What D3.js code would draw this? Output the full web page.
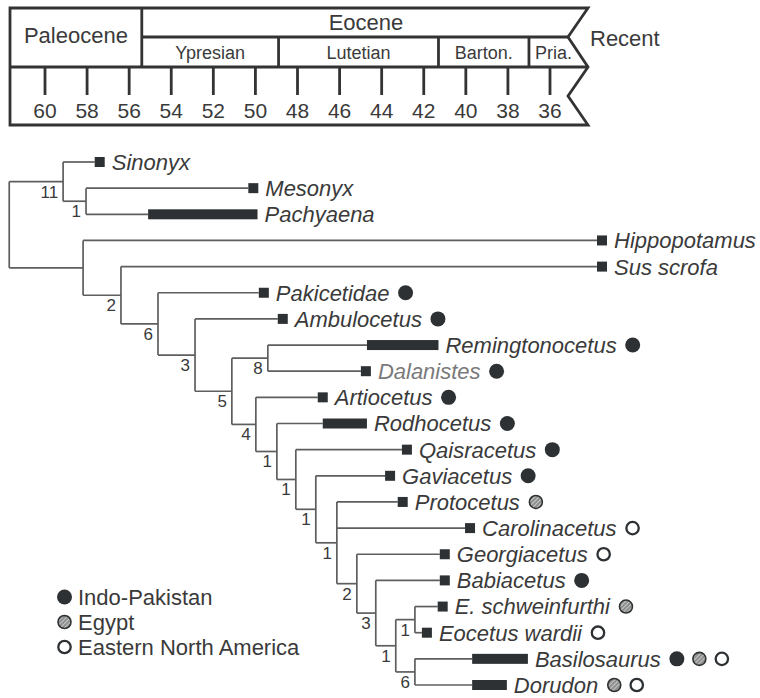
<!DOCTYPE html>
<html>
<head>
<script src="https://d3js.org/d3.v7.min.js"></script>
<style>
  body { margin: 0; background: #fff; }
  text { font-family: "Liberation Sans", Arial, sans-serif; fill: #3a3a3a; }
</style>
</head>
<body>
<div id="chart"></div>
<script>
// ---- time scale data (Ma) ----
const tickAges = [60, 58, 56, 54, 52, 50, 48, 46, 44, 42, 40, 38, 36];
const epochBoundary = 55.4;                 // Paleocene / Eocene
const stageNames = ["Ypresian", "Lutetian", "Barton.", "Pria."];
const stageBounds = [55.4, 48.9, 41.3, 37.0]; // older edge of each stage

// ---- taxa (top to bottom) ----
const taxa = ["Sinonyx", "Mesonyx", "Pachyaena", "Hippopotamus", "Sus scrofa",
  "Pakicetidae", "Ambulocetus", "Remingtonocetus", "Dalanistes", "Artiocetus",
  "Rodhocetus", "Qaisracetus", "Gaviacetus", "Protocetus", "Carolinacetus",
  "Georgiacetus", "Babiacetus", "E. schweinfurthi", "Eocetus wardii",
  "Basilosaurus", "Dorudon"];
// first / last appearance (Ma); 0 = Recent
const tipFirst = [57.4, 50.1, 55.1, 0, 0, 49.6, 48.7, 44.7, 44.75, 46.8, 46.8,
  42.8, 43.6, 43.0, 39.8, 41.0, 41.0, 41.1, 41.85, 39.7, 39.7];
const tipLast  = [57.4, 50.1, 49.9, 0, 0, 49.6, 48.7, 41.3, 44.75, 46.8, 44.7,
  42.8, 43.6, 43.0, 39.8, 41.0, 41.0, 41.1, 41.85, 37.05, 38.05];
const tipParent = ["A", "M", "M", "B", "C", "D", "E", "R", "R", "G", "H", "I",
  "J", "K", "K", "L", "N", "S", "S", "T", "T"];
// IP = Indo-Pakistan, EG = Egypt, NA = Eastern North America
const tipRegions = [[], [], [], [], [], ["IP"], ["IP"], ["IP"], ["IP"], ["IP"],
  ["IP"], ["IP"], ["IP"], ["EG"], ["NA"], ["NA"], ["IP"], ["EG"], ["NA"],
  ["IP", "EG", "NA"], ["EG", "NA"]];

// ---- clades ----
const cladeIds     = ["root", "A", "M", "B", "C", "D", "E", "F", "R", "G", "H", "I", "J", "K", "L", "N", "P", "S", "T"];
const cladeParent  = [null, "root", "A", "root", "B", "C", "D", "E", "F", "F", "G", "H", "I", "J", "K", "L", "N", "P", "P"];
const cladeAge     = [61.7, 59.14, 58.05, 58.19, 56.39, 54.63, 52.87, 51.12, 49.41, 49.98, 48.98, 48.08, 47.13, 46.13, 45.18, 44.28, 43.33, 42.42, 42.42];
const cladeSupport = ["", "11", "1", "", "2", "6", "3", "5", "8", "4", "1", "1", "1", "1", "2", "3", "1", "1", "6"];

const regionCodes = ["IP", "EG", "NA"];
const regionNames = ["Indo-Pakistan", "Egypt", "Eastern North America"];

// ---- setup ----
const width = 760, height = 698;
const dark = "#2d3133";
const svg = d3.select("#chart").append("svg")
  .attr("width", width).attr("height", height);

const defs = svg.append("defs");
const pat = defs.append("pattern").attr("id", "hatch")
  .attr("patternUnits", "userSpaceOnUse").attr("width", 3).attr("height", 3)
  .attr("patternTransform", "rotate(45)");
pat.append("rect").attr("width", 3).attr("height", 3).attr("fill", "#8e8e8e");
pat.append("line").attr("x1", 0).attr("y1", 0).attr("x2", 0).attr("y2", 3)
  .attr("stroke", "#e4e4e4").attr("stroke-width", 1.3);

// ages -> x ; Recent sits past the break
const x = d3.scaleLinear().domain([60, 36, 0]).range([45, 550, 602]);

// ---- time scale box ----
const bx0 = 10, bx1 = 588, bxIn = 568;
const by0 = 8, byMid = 37, byTick = 67, by1 = 125;
const ts = svg.append("g").attr("stroke", "#333").attr("stroke-width", 2.8).attr("fill", "none");
ts.append("path").attr("d",
  `M${bx0},${by0}H${bx1}L${bxIn},${byMid}L${bx1},${byTick}L${bxIn},${(byTick + by1) / 2}L${bx1},${by1}H${bx0}Z`)
  .attr("stroke-linejoin", "miter");
ts.append("line").attr("x1", x(epochBoundary)).attr("x2", bxIn).attr("y1", byMid).attr("y2", byMid);
ts.append("line").attr("x1", bx0).attr("x2", bx1).attr("y1", byTick).attr("y2", byTick);
ts.append("line").attr("x1", x(epochBoundary)).attr("x2", x(epochBoundary)).attr("y1", by0).attr("y2", byTick);
ts.selectAll(".sb").data(stageBounds.slice(1)).join("line")
  .attr("x1", d => x(d)).attr("x2", d => x(d)).attr("y1", byMid).attr("y2", byTick);
ts.selectAll(".tk").data(tickAges).join("line")
  .attr("x1", d => x(d)).attr("x2", d => x(d)).attr("y1", byTick).attr("y2", 95);

svg.selectAll(".tl").data(tickAges).join("text")
  .attr("x", d => x(d)).attr("y", 118).attr("text-anchor", "middle")
  .attr("font-size", 21).text(d => d);

svg.append("text").attr("x", (bx0 + x(epochBoundary)) / 2).attr("y", byTick / 2 + 9)
  .attr("text-anchor", "middle").attr("font-size", 22).text("Paleocene");
svg.append("text").attr("x", 366).attr("y", 30)
  .attr("text-anchor", "middle").attr("font-size", 22).text("Eocene");
svg.append("text").attr("x", 590).attr("y", 46).attr("font-size", 22).text("Recent");

const stageRight = stageBounds.slice(1).map(x).concat([578]);
svg.selectAll(".st").data(stageNames).join("text")
  .attr("x", (d, i) => (x(stageBounds[i]) + stageRight[i]) / 2)
  .attr("y", 59).attr("text-anchor", "middle").attr("font-size", 18).text(d => d);

// ---- tree ----
const table = cladeIds.map((id, i) => ({ id, parent: cladeParent[i], age: cladeAge[i], support: cladeSupport[i] }))
  .concat(taxa.map((t, i) => ({ id: t, parent: tipParent[i], tip: i })));
const root = d3.stratify().id(d => d.id).parentId(d => d.parent)(table);

const y = d3.scalePoint().domain(taxa).range([162, 685]);
const sq = 10, barH = 10;

root.eachAfter(n => {
  if (n.data.tip !== undefined) {
    const i = n.data.tip;
    n.y = y(taxa[i]);
    n.xStart = tipFirst[i] === tipLast[i] ? x(tipFirst[i]) - sq / 2 : x(tipFirst[i]);
    n.xEnd = tipFirst[i] === tipLast[i] ? x(tipFirst[i]) + sq / 2 : x(tipLast[i]);
  } else {
    const ys = n.children.map(c => c.y);
    n.yMin = d3.min(ys); n.yMax = d3.max(ys);
    n.y = (n.yMin + n.yMax) / 2;
    n.xStart = x(n.data.age);
  }
});

const tree = svg.append("g").attr("stroke", "#5e5e5e").attr("stroke-width", 1.7).attr("fill", "none");
// verticals
tree.selectAll(".v").data(root.descendants().filter(n => n.children)).join("line")
  .attr("x1", n => n.xStart).attr("x2", n => n.xStart)
  .attr("y1", n => n.yMin).attr("y2", n => n.yMax);
// horizontals
tree.selectAll(".h").data(root.descendants().filter(n => n.parent)).join("line")
  .attr("x1", n => n.parent.xStart).attr("x2", n => n.xStart)
  .attr("y1", n => n.y).attr("y2", n => n.y);

// support values
svg.selectAll(".sup").data(root.descendants().filter(n => n.data.support)).join("text")
  .attr("x", n => n.xStart - 5).attr("y", n => n.y + 16)
  .attr("text-anchor", "end").attr("font-size", 17).text(n => n.data.support);

// tip markers and labels
const leaves = root.leaves();
svg.selectAll(".mk").data(leaves).join("rect")
  .attr("x", n => n.xStart).attr("y", n => n.y - barH / 2)
  .attr("width", n => n.xEnd - n.xStart).attr("height", barH).attr("fill", dark);

function drawRegion(g, code, cx, cy) {
  if (code === "IP") g.append("circle").attr("cx", cx).attr("cy", cy).attr("r", 7.5).attr("fill", dark);
  else if (code === "EG") g.append("circle").attr("cx", cx).attr("cy", cy).attr("r", 6.5)
    .attr("fill", "url(#hatch)").attr("stroke", dark).attr("stroke-width", 1.6);
  else g.append("circle").attr("cx", cx).attr("cy", cy).attr("r", 6.2)
    .attr("fill", "#fff").attr("stroke", dark).attr("stroke-width", 2.3);
}

const regG = svg.append("g");
leaves.forEach(n => {
  const i = n.data.tip;
  const t = svg.append("text")
    .attr("x", n.xEnd + 7).attr("y", n.y).attr("dy", "0.36em")
    .attr("font-size", 22).attr("font-style", "italic")
    .style("fill", taxa[i] === "Dalanistes" ? "#7a7a7a" : "#3a3a3a")
    .text(taxa[i]);
  const end = n.xEnd + 7 + t.node().getComputedTextLength();
  tipRegions[i].forEach((code, k) => drawRegion(regG, code, end + 16 + k * 22.5, n.y));
});

// ---- legend ----
const legY = d3.scalePoint().domain(regionCodes).range([597, 647]);
regionCodes.forEach((code, k) => {
  drawRegion(svg, code, 64.5, legY(code));
  svg.append("text").attr("x", 78).attr("y", legY(code)).attr("dy", "0.36em")
    .attr("font-size", 22).text(regionNames[k]);
});
</script>
</body>
</html>
